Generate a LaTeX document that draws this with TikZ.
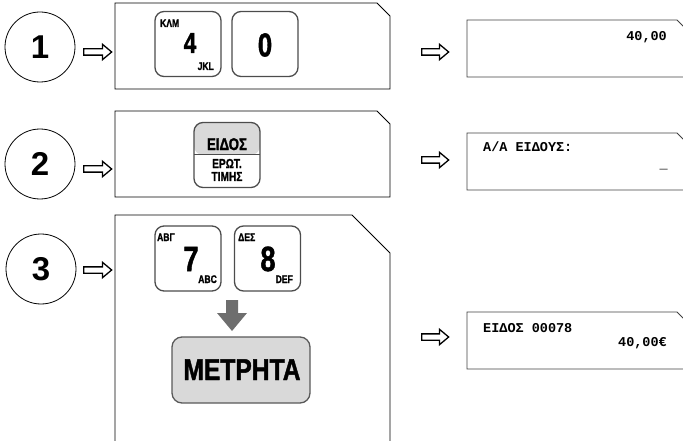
\documentclass[tikz,border=0pt]{standalone}
\usepackage{fontspec}
\setmainfont{Liberation Sans}
\newfontfamily\keyfont[FakeBold=1.6]{Liberation Sans Bold}
\newfontfamily\lcdfont{Liberation Mono}
\usetikzlibrary{shapes.arrows,positioning}
\newcommand{\fsz}[1]{\fontsize{#1}{#1}\selectfont}
\tikzset{
  stepnum/.style={circle,draw=black,line width=0.8pt,minimum size=70pt,
    inner sep=0pt,font=\fsz{33}\bfseries},
  thenarr/.style={single arrow,draw=black,fill=white,line width=1.3pt,
    minimum height=28pt,minimum width=1pt,inner xsep=0pt,inner ysep=2.5pt,
    single arrow head extend=4.5pt,single arrow tip angle=80,anchor=tail},
  panel/.style={draw=black,line width=0.9pt},
  lcd/.style={draw=black!75,line width=0.8pt},
  key/.style={draw=black!70,line width=1.3pt,rounded corners=9pt,
    minimum width=66pt,minimum height=65pt,inner sep=0pt},
  keybig/.style={inner sep=0pt,xscale=0.78,font=\keyfont\fsz{#1}},
  keysmall/.style={inner sep=0pt,xscale=0.78,font=\keyfont\fsz{11}},
  lcdtext/.style={inner sep=0pt,font=\lcdfont\bfseries\fsz{13.5}},
}
\begin{document}
\begin{tikzpicture}[x=1pt,y=-1pt]
  \clip (0,0) rectangle (683,441);

  % steps
  \node[stepnum] (s1) at (40,47) {1};
  \node[stepnum] (s2) at (40,164) {2};
  \node[stepnum] (s3) at (41,269) {3};
  \node[thenarr] (a1) at (83,52) {};
  \node[thenarr] (a2) at (83,169) {};
  \node[thenarr] (a3) at (83,270) {};

  % key panels
  \draw[panel] (115,3) -- (377,3) -- (390,16) -- (390,89) -- (115,89) -- cycle;
  \draw[panel] (115,111) -- (377,111) -- (390,124) -- (390,197) -- (115,197) -- cycle;
  \draw[panel] (115,215) -- (352,215) -- (390,253) -- (390,460) -- (115,460) -- cycle;

  % step 1 keys
  \node[key] (k4) at (188,44) {};
  \node[key] (k0) at (265,44) {};
  \node[keybig=29,anchor=base] at (190,53) {4};
  \node[keysmall,anchor=base west] at (160,27) {ΚΛΜ};
  \node[keysmall,anchor=base east] at (214,70) {JKL};
  \node[keybig=33,anchor=center] at (265,45) {0};

  % step 2 key
  \node[key,path picture={
      \fill[black!15] (path picture bounding box.north west)
        rectangle (path picture bounding box.east);
      \draw[black!70,line width=1pt] (path picture bounding box.west)
        -- (path picture bounding box.east);}] (kid) at (227,155) {};
  \node[keybig=17,anchor=base] at (227,150) {ΕΙΔΟΣ};
  \node[keybig=13,anchor=base] at (227,168) {ΕΡΩΤ.};
  \node[keybig=13,anchor=base] at (227,181) {ΤΙΜΗΣ};

  % step 3 keys
  \node[key] (k7) at (188,258.5) {};
  \node[key] (k8) at (267.5,258.5) {};
  \node[keysmall,anchor=base west] at (157,241) {ΑΒΓ};
  \node[keybig=35,anchor=base] at (191,271) {7};
  \node[keysmall,anchor=base east] at (217,283) {ABC};
  \node[keysmall,anchor=base west] at (238,241) {ΔΕΣ};
  \node[keybig=35,anchor=base] at (268,271) {8};
  \node[keysmall,anchor=base east] at (293,283) {DEF};
  \fill[black!57] (226,300) -- (238,300) -- (238,313) -- (247,313)
    -- (232,331) -- (217,313) -- (226,313) -- cycle;
  \node[draw=black!65,fill=black!15,line width=1.3pt,rounded corners=10pt,
    minimum width=138pt,minimum height=66pt,inner sep=0pt] (cash) at (241,370) {};
  \node[inner sep=0pt,xscale=0.82,font=\keyfont\fsz{30},anchor=base] at (242,380) {ΜΕΤΡΗΤΑ};

  % displays
  \node[thenarr,minimum height=27pt] (r1) at (421,52) {};
  \node[thenarr,minimum height=27pt] (r2) at (421,160) {};
  \node[thenarr,minimum height=27pt] (r3) at (421,337) {};
  \draw[lcd] (467,20) -- (677,20) -- (690,33) -- (690,77) -- (467,77) -- cycle;
  \draw[lcd] (467,133) -- (677,133) -- (690,146) -- (690,190) -- (467,190) -- cycle;
  \draw[lcd] (467,312) -- (677,312) -- (690,325) -- (690,369) -- (467,369) -- cycle;
  \node[lcdtext,anchor=base east] (t1) at (667,41) {40,00};
  \node[lcdtext,anchor=base west] (t2) at (483,152) {A/A ΕΙΔΟΥΣ:};
  \node[lcdtext,anchor=base east] (t3) at (668,169) {\_};
  \node[lcdtext,anchor=base west] (t4) at (483,332) {ΕΙΔΟΣ 00078};
  \node[lcdtext,anchor=base east] (t5) at (667,346) {40,00€};
\end{tikzpicture}
\end{document}
